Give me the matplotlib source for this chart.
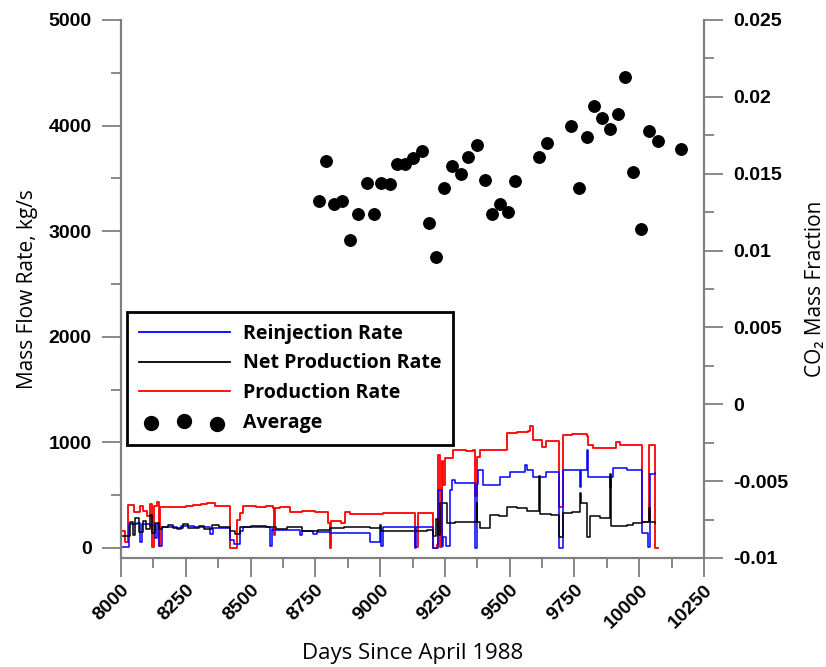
import matplotlib
matplotlib.use("Agg")
import matplotlib.pyplot as plt
from matplotlib.font_manager import FontProperties
from matplotlib.ticker import MultipleLocator, FormatStrFormatter
from matplotlib.lines import Line2D
from matplotlib.collections import PathCollection
from matplotlib.legend_handler import HandlerPathCollection

# --- production rate (red), kg/s
prod_days = [8000, 8015, 8028, 8050, 8073, 8085, 8099, 8110, 8118, 8128, 8140, 8146,
             8152, 8200, 8250, 8279, 8310, 8331, 8363, 8421, 8446, 8460, 8472, 8520,
             8560, 8585, 8590, 8596, 8613, 8652, 8700, 8750, 8794, 8800, 8806, 8812,
             8850, 8864, 8883, 8950, 9012, 9080, 9128, 9134, 9147, 9205, 9218, 9224,
             9231, 9237, 9244, 9250, 9269, 9282, 9308, 9330, 9359, 9366, 9372, 9385,
             9440, 9488, 9530, 9571, 9578, 9591, 9623, 9642, 9691, 9704, 9740, 9797,
             9803, 9822, 9870, 9912, 9925, 9970, 10009, 10034, 10038, 10060, 10073]
prod_vals = [160, 60, 410, 340, 400, 350, 300, 420, 10, 400, 440, 20,
             385, 385, 400, 410, 420, 430, 400, 0, 265, 330, 400, 390,
             400, 380, 120, 380, 390, 345, 350, 345, 340, 235, 0, 255,
             240, 345, 325, 320, 335, 330, 330, 10, 330, 0, 30, 880,
             10, 820, 600, 850, 850, 930, 930, 915, 930, 490, 865, 930,
             925, 1090, 1100, 1110, 1155, 1025, 960, 1015, 390, 1070, 1075, 1060,
             975, 950, 945, 1005, 975, 975, 250, 250, 975, 0, 0]

# --- reinjection rate (blue), kg/s
reinj_days = [8000, 8030, 8060, 8073, 8082, 8110, 8130, 8138, 8145, 8157, 8215, 8230,
              8280, 8343, 8355, 8421, 8436, 8459, 8472, 8575, 8581, 8588, 8640, 8691,
              8700, 8710, 8742, 8755, 8806, 8860, 8961, 9000, 9004, 9010, 9100, 9134,
              9140, 9205, 9224, 9237, 9244, 9256, 9270, 9276, 9289, 9295, 9366, 9372,
              9379, 9398, 9462, 9501, 9559, 9565, 9591, 9642, 9691, 9704, 9771, 9777,
              9797, 9803, 9887, 9893, 9900, 9951, 10009, 10034, 10041, 10062]
reinj_vals = [12, 230, 235, 60, 225, 215, 90, 230, 20, 200, 180, 205,
              195, 130, 192, 80, 40, 160, 195, 20, 175, 170, 170, 120,
              165, 160, 130, 155, 140, 145, 60, 190, 20, 200, 200, 0,
              195, 0, 550, 20, 100, 20, 550, 640, 612, 612, 0, 610,
              740, 600, 675, 720, 786, 740, 670, 720, 0, 740, 580, 740,
              930, 675, 580, 675, 754, 740, 140, 10, 705, 710]

# --- net production rate (black), kg/s
net_days = [8000, 8028, 8035, 8045, 8055, 8070, 8085, 8095, 8110, 8120, 8130, 8145,
            8160, 8180, 8200, 8240, 8260, 8300, 8320, 8350, 8380, 8421, 8440, 8460,
            8500, 8560, 8600, 8640, 8700, 8760, 8806, 8860, 8961, 9000, 9005, 9060,
            9134, 9180, 9205, 9215, 9222, 9230, 9244, 9258, 9289, 9372, 9375, 9385,
            9424, 9460, 9488, 9530, 9565, 9614, 9617, 9660, 9691, 9706, 9740, 9771,
            9777, 9797, 9810, 9850, 9887, 9890, 9951, 9977, 10009, 10038, 10041, 10060]
net_vals = [110, 110, 250, 120, 280, 150, 260, 180, 310, 140, 240, 180,
            200, 220, 190, 230, 190, 205, 180, 220, 200, 160, 130, 200,
            205, 200, 175, 200, 165, 170, 190, 200, 185, 220, 160, 160,
            160, 170, 110, 270, 120, 430, 426, 240, 246, 426, 246, 190,
            312, 300, 391, 380, 350, 680, 320, 310, 107, 330, 340, 518,
            423, 107, 300, 280, 700, 210, 215, 234, 250, 376, 250, 240]

# --- CO2 mass fraction averages (right axis)
avg_days = [8764, 8791, 8821, 8853, 8883, 8915, 8948, 8975, 9003, 9037, 9066, 9096,
            9127, 9160, 9188, 9215, 9247, 9278, 9311, 9341, 9373, 9403, 9430, 9462,
            9493, 9521, 9614, 9645, 9735, 9766, 9797, 9824, 9856, 9887, 9920, 9947,
            9977, 10007, 10038, 10071, 10160]
avg_co2 = [0.0132, 0.0158, 0.0130, 0.0132, 0.0107, 0.0124, 0.0144, 0.0124, 0.0144,
           0.0143, 0.0156, 0.0156, 0.0160, 0.0165, 0.0118, 0.0096, 0.0141, 0.0155,
           0.0150, 0.0161, 0.0169, 0.0146, 0.0124, 0.0130, 0.0125, 0.0145, 0.0161,
           0.0170, 0.0181, 0.0141, 0.0174, 0.0194, 0.0186, 0.0179, 0.0189, 0.0213,
           0.0151, 0.0114, 0.0178, 0.0171, 0.0166]

GRAY = "#7f7f7f"
TICK_FONT = dict(family="Liberation Sans", weight="bold", size=14)
LABEL_FONT = ["Open Sans", "DejaVu Sans"]

fig = plt.figure(figsize=(8.26, 6.67), dpi=100)
ax = fig.add_axes([121 / 826, 1 - 558 / 667, 583 / 826, 538 / 667])
ax2 = ax.twinx()

ax.plot(prod_days, prod_vals, color="#ff0000", lw=1.3, drawstyle="steps-post", zorder=2)
ax.plot(reinj_days, reinj_vals, color="#0000ff", lw=1.1, drawstyle="steps-post", zorder=3)
ax.plot(net_days, net_vals, color="#000000", lw=1.1, drawstyle="steps-post", zorder=4)
ax2.scatter(avg_days, avg_co2, s=68, color="black", zorder=5)

ax.set_xlim(8000, 10250)
ax.set_ylim(-95, 5000)
ax2.set_ylim(-0.01, 0.025)

ax.xaxis.set_major_locator(MultipleLocator(250))
ax.xaxis.set_minor_locator(MultipleLocator(125))
ax.yaxis.set_major_locator(MultipleLocator(1000))
ax.yaxis.set_minor_locator(MultipleLocator(500))
ax2.yaxis.set_major_locator(MultipleLocator(0.005))
ax2.yaxis.set_minor_locator(MultipleLocator(0.0025))
ax2.yaxis.set_major_formatter(FormatStrFormatter("%g"))

for a in (ax, ax2):
    for side, sp in a.spines.items():
        sp.set_color(GRAY)
        sp.set_linewidth(1.5)
    a.spines["top"].set_visible(False)
    a.tick_params(which="major", length=14, width=1.3, color=GRAY, direction="out")
    a.tick_params(which="minor", length=7, width=1.3, color=GRAY, direction="out")

ax.tick_params(axis="y", pad=7)
ax2.tick_params(axis="y", pad=7)
ax.tick_params(axis="x", pad=3)

for lab in ax.get_yticklabels() + ax2.get_yticklabels():
    lab.set_fontproperties(FontProperties(**TICK_FONT))
for lab in ax.get_xticklabels():
    lab.set_fontproperties(FontProperties(**TICK_FONT))
    lab.set_rotation(45)
    lab.set_ha("right")
    lab.set_va("top")
    lab.set_rotation_mode("anchor")

ax.set_xlabel("Days Since April 1988", family=LABEL_FONT, fontsize=16, labelpad=8)
ax.set_ylabel("Mass Flow Rate, kg/s", family=LABEL_FONT, fontsize=15, labelpad=8)
ax2.set_ylabel("CO\u2082 Mass Fraction", family=LABEL_FONT, fontsize=15, labelpad=12)

handles = [
    Line2D([], [], color="#0000ff", lw=1.3),
    Line2D([], [], color="#000000", lw=1.3),
    Line2D([], [], color="#ff0000", lw=1.3),
    ax2.collections[0],
]
leg = ax2.legend(handles, ["Reinjection Rate", "Net Production Rate", "Production Rate", "Average"],
                 loc="upper left", bbox_to_anchor=(6 / 583, 246 / 538), borderaxespad=0,
                 handlelength=4.7, handletextpad=0.67, scatterpoints=3,
                 handler_map={PathCollection: HandlerPathCollection(marker_pad=0.65)},
                 prop=dict(family=LABEL_FONT, weight="bold", size=14),
                 fancybox=False, framealpha=1, borderpad=0.6, labelspacing=0.5)
leg.get_frame().set_edgecolor("black")
leg.get_frame().set_linewidth(2)
for h in leg.legend_handles[3:]:
    h.set_sizes([100])

fig.savefig("out.png", dpi=100)
